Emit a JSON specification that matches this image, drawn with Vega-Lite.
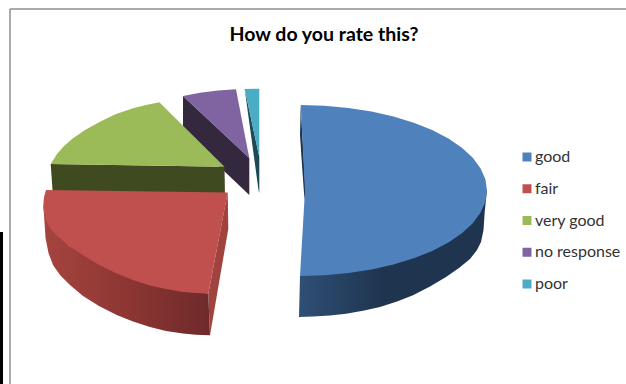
{
  "$schema": "https://vega.github.io/schema/vega-lite/v6.json",
  "width": 626,
  "height": 384,
  "padding": 0,
  "autosize": "none",
  "background": "white",
  "view": {"stroke": null},
  "title": {
    "text": "How do you rate this?",
    "font": "Lato",
    "fontSize": 19.5,
    "fontWeight": "bold",
    "color": "#000000",
    "anchor": "middle",
    "frame": "group",
    "baseline": "alphabetic",
    "offset": -41,
    "dx": 11,
    "dy": 19
  },
  "datasets": {
    "border": [
      {"x": 10, "y": 9, "x2": 10, "y2": 384},
      {"x": 10, "y": 9, "x2": 626, "y2": 9}
    ],
    "edgeBar": [{"x": 0, "x2": 3, "y": 232, "y2": 384}],
    "walls": [
      {"part": "poor", "n": 0, "x": 244.7, "y": 89},
      {"part": "poor", "n": 1, "x": 259.3, "y": 157},
      {"part": "poor", "n": 2, "x": 259.3, "y": 193},
      {"part": "poor", "n": 3, "x": 258.5, "y": 190},
      {"part": "no response", "n": 0, "x": 183, "y": 96},
      {"part": "no response", "n": 1, "x": 249.3, "y": 158},
      {"part": "no response", "n": 2, "x": 249.3, "y": 195},
      {"part": "no response", "n": 3, "x": 183, "y": 132},
      {"part": "very good", "n": 0, "x": 50.7, "y": 164},
      {"part": "very good", "n": 1, "x": 224.5, "y": 166.7},
      {"part": "very good", "n": 2, "x": 225, "y": 197},
      {"part": "very good", "n": 3, "x": 53, "y": 197},
      {"part": "fair side", "n": 0, "x": 227.7, "y": 192},
      {"part": "fair side", "n": 1, "x": 228.3, "y": 228.7},
      {"part": "fair side", "n": 2, "x": 210, "y": 335.3},
      {"part": "fair side", "n": 3, "x": 208.3, "y": 293.7},
      {"part": "fair rim", "n": 0, "x": 43.3, "y": 205},
      {"part": "fair rim", "n": 1, "x": 69, "y": 246},
      {"part": "fair rim", "n": 2, "x": 208.3, "y": 293.7},
      {"part": "fair rim", "n": 3, "x": 210, "y": 335.3},
      {"part": "fair rim", "n": 4, "x": 196, "y": 334.8},
      {"part": "fair rim", "n": 5, "x": 183, "y": 333.5},
      {"part": "fair rim", "n": 6, "x": 166, "y": 331},
      {"part": "fair rim", "n": 7, "x": 150, "y": 327},
      {"part": "fair rim", "n": 8, "x": 133, "y": 321.5},
      {"part": "fair rim", "n": 9, "x": 116.7, "y": 315},
      {"part": "fair rim", "n": 10, "x": 99, "y": 306},
      {"part": "fair rim", "n": 11, "x": 83, "y": 296},
      {"part": "fair rim", "n": 12, "x": 70, "y": 285},
      {"part": "fair rim", "n": 13, "x": 60, "y": 275},
      {"part": "fair rim", "n": 14, "x": 53, "y": 265},
      {"part": "fair rim", "n": 15, "x": 48.5, "y": 253},
      {"part": "fair rim", "n": 16, "x": 45.5, "y": 238},
      {"part": "fair rim", "n": 17, "x": 44.5, "y": 222},
      {"part": "good inner", "n": 0, "x": 300.7, "y": 106},
      {"part": "good inner", "n": 1, "x": 300, "y": 135},
      {"part": "good inner", "n": 2, "x": 302, "y": 165},
      {"part": "good inner", "n": 3, "x": 304.5, "y": 200},
      {"part": "good inner", "n": 4, "x": 305.5, "y": 190},
      {"part": "good rim", "n": 0, "x": 300, "y": 276},
      {"part": "good rim", "n": 1, "x": 487, "y": 190},
      {"part": "good rim", "n": 2, "x": 484.7, "y": 212},
      {"part": "good rim", "n": 3, "x": 483.5, "y": 230},
      {"part": "good rim", "n": 4, "x": 481, "y": 242},
      {"part": "good rim", "n": 5, "x": 477, "y": 250},
      {"part": "good rim", "n": 6, "x": 470, "y": 259},
      {"part": "good rim", "n": 7, "x": 459, "y": 268},
      {"part": "good rim", "n": 8, "x": 446, "y": 277},
      {"part": "good rim", "n": 9, "x": 430, "y": 286.5},
      {"part": "good rim", "n": 10, "x": 413, "y": 295.3},
      {"part": "good rim", "n": 11, "x": 397, "y": 301.5},
      {"part": "good rim", "n": 12, "x": 380, "y": 307},
      {"part": "good rim", "n": 13, "x": 363, "y": 310.8},
      {"part": "good rim", "n": 14, "x": 346, "y": 313.7},
      {"part": "good rim", "n": 15, "x": 330, "y": 315.6},
      {"part": "good rim", "n": 16, "x": 313, "y": 316.6},
      {"part": "good rim", "n": 17, "x": 299, "y": 317}
    ],
    "tops": [
      {"rating": "poor", "n": 0, "x": 244.7, "y": 89},
      {"rating": "poor", "n": 1, "x": 259.3, "y": 88.8},
      {"rating": "poor", "n": 2, "x": 259.3, "y": 157},

      {"rating": "no response", "n": 0, "x": 183, "y": 96},
      {"rating": "no response", "n": 1, "x": 200, "y": 92.8},
      {"rating": "no response", "n": 2, "x": 218, "y": 90.5},
      {"rating": "no response", "n": 3, "x": 236, "y": 89.3},
      {"rating": "no response", "n": 4, "x": 249.3, "y": 158.3},

      {"rating": "very good", "n": 0, "x": 159.3, "y": 102.3},
      {"rating": "very good", "n": 1, "x": 146, "y": 105},
      {"rating": "very good", "n": 2, "x": 133, "y": 108.3},
      {"rating": "very good", "n": 3, "x": 116, "y": 114},
      {"rating": "very good", "n": 4, "x": 100, "y": 121.7},
      {"rating": "very good", "n": 5, "x": 85, "y": 130},
      {"rating": "very good", "n": 6, "x": 73, "y": 138.3},
      {"rating": "very good", "n": 7, "x": 64, "y": 146},
      {"rating": "very good", "n": 8, "x": 57, "y": 154},
      {"rating": "very good", "n": 9, "x": 50.7, "y": 164},
      {"rating": "very good", "n": 10, "x": 224.5, "y": 166.7},

      {"rating": "fair", "n": 0, "x": 46, "y": 190},
      {"rating": "fair", "n": 1, "x": 44, "y": 197},
      {"rating": "fair", "n": 2, "x": 43.3, "y": 205},
      {"rating": "fair", "n": 3, "x": 44, "y": 213},
      {"rating": "fair", "n": 4, "x": 46, "y": 220},
      {"rating": "fair", "n": 5, "x": 50, "y": 228},
      {"rating": "fair", "n": 6, "x": 56.7, "y": 235.5},
      {"rating": "fair", "n": 7, "x": 69, "y": 246},
      {"rating": "fair", "n": 8, "x": 83, "y": 255},
      {"rating": "fair", "n": 9, "x": 99, "y": 265},
      {"rating": "fair", "n": 10, "x": 116.7, "y": 273.5},
      {"rating": "fair", "n": 11, "x": 133, "y": 280},
      {"rating": "fair", "n": 12, "x": 150, "y": 285.5},
      {"rating": "fair", "n": 13, "x": 166, "y": 289},
      {"rating": "fair", "n": 14, "x": 183, "y": 292},
      {"rating": "fair", "n": 15, "x": 196, "y": 293},
      {"rating": "fair", "n": 16, "x": 208.3, "y": 293.7},
      {"rating": "fair", "n": 17, "x": 227.7, "y": 192.5},

      {"rating": "good", "n": 0, "x": 300.7, "y": 105},
      {"rating": "good", "n": 1, "x": 324.4, "y": 105.7},
      {"rating": "good", "n": 2, "x": 348.4, "y": 107.9},
      {"rating": "good", "n": 3, "x": 371.6, "y": 111.5},
      {"rating": "good", "n": 4, "x": 393.5, "y": 116.5},
      {"rating": "good", "n": 5, "x": 413.8, "y": 122.7},
      {"rating": "good", "n": 6, "x": 432.2, "y": 130},
      {"rating": "good", "n": 7, "x": 448.4, "y": 138.5},
      {"rating": "good", "n": 8, "x": 461.9, "y": 147.8},
      {"rating": "good", "n": 9, "x": 472.8, "y": 157.8},
      {"rating": "good", "n": 10, "x": 480.6, "y": 168.4},
      {"rating": "good", "n": 11, "x": 485.4, "y": 179.3},
      {"rating": "good", "n": 12, "x": 487, "y": 190.5},
      {"rating": "good", "n": 13, "x": 485.4, "y": 201.7},
      {"rating": "good", "n": 14, "x": 480.6, "y": 212.6},
      {"rating": "good", "n": 15, "x": 472.8, "y": 223.2},
      {"rating": "good", "n": 16, "x": 461.9, "y": 233.3},
      {"rating": "good", "n": 17, "x": 448.4, "y": 242.5},
      {"rating": "good", "n": 18, "x": 432.2, "y": 251},
      {"rating": "good", "n": 19, "x": 413.8, "y": 258.3},
      {"rating": "good", "n": 20, "x": 393.5, "y": 264.5},
      {"rating": "good", "n": 21, "x": 371.6, "y": 269.5},
      {"rating": "good", "n": 22, "x": 348.4, "y": 273.1},
      {"rating": "good", "n": 23, "x": 324.4, "y": 275.3},
      {"rating": "good", "n": 24, "x": 300, "y": 276},
      {"rating": "good", "n": 25, "x": 305, "y": 190.5}
    ]
  },
  "encoding": {
    "x": {"field": "x", "type": "quantitative", "axis": null, "scale": {"domain": [0, 626], "nice": false, "zero": false}},
    "y": {"field": "y", "type": "quantitative", "axis": null, "scale": {"domain": [384, 0], "nice": false, "zero": false}}
  },
  "layer": [
    {
      "data": {"name": "border"},
      "mark": {"type": "rule", "stroke": "#8f8f8f", "strokeWidth": 1.5},
      "encoding": {"x2": {"field": "x2"}, "y2": {"field": "y2"}}
    },
    {
      "data": {"name": "edgeBar"},
      "mark": {"type": "rect", "fill": "#000000"},
      "encoding": {"x2": {"field": "x2"}, "y2": {"field": "y2"}}
    },
    {
      "data": {"name": "walls"},
      "transform": [{"filter": "datum.part === 'poor'"}],
      "mark": {"type": "line", "fill": "#1f4a55", "strokeOpacity": 0},
      "encoding": {"order": {"field": "n"}}
    },
    {
      "data": {"name": "walls"},
      "transform": [{"filter": "datum.part === 'no response'"}],
      "mark": {"type": "line", "fill": "#34283f", "strokeOpacity": 0},
      "encoding": {"order": {"field": "n"}}
    },
    {
      "data": {"name": "walls"},
      "transform": [{"filter": "datum.part === 'very good'"}],
      "mark": {"type": "line", "fill": "#404a20", "strokeOpacity": 0},
      "encoding": {"order": {"field": "n"}}
    },
    {
      "data": {"name": "walls"},
      "transform": [{"filter": "datum.part === 'fair side'"}],
      "mark": {"type": "line", "fill": "#a0433f", "strokeOpacity": 0},
      "encoding": {"order": {"field": "n"}}
    },
    {
      "data": {"name": "walls"},
      "transform": [{"filter": "datum.part === 'fair rim'"}],
      "mark": {
        "type": "line",
        "strokeOpacity": 0,
        "fill": {
          "gradient": "linear", "x1": 0, "x2": 1, "y1": 0, "y2": 0,
          "stops": [
            {"offset": 0, "color": "#a6443f"},
            {"offset": 0.5, "color": "#8d3633"},
            {"offset": 1, "color": "#6e2a2a"}
          ]
        }
      },
      "encoding": {"order": {"field": "n"}}
    },
    {
      "data": {"name": "walls"},
      "transform": [{"filter": "datum.part === 'good inner'"}],
      "mark": {"type": "line", "fill": "#1f344f", "strokeOpacity": 0},
      "encoding": {"order": {"field": "n"}}
    },
    {
      "data": {"name": "walls"},
      "transform": [{"filter": "datum.part === 'good rim'"}],
      "mark": {
        "type": "line",
        "strokeOpacity": 0,
        "fill": {
          "gradient": "linear", "x1": 0, "x2": 1, "y1": 0, "y2": 0,
          "stops": [
            {"offset": 0, "color": "#2f4f75"},
            {"offset": 0.45, "color": "#1f344f"},
            {"offset": 1, "color": "#1f344f"}
          ]
        }
      },
      "encoding": {"order": {"field": "n"}}
    },
    {
      "data": {"name": "tops"},
      "mark": {"type": "line", "strokeOpacity": 0},
      "encoding": {
        "order": {"field": "n"},
        "fill": {
          "field": "rating",
          "type": "nominal",
          "scale": {
            "domain": ["good", "fair", "very good", "no response", "poor"],
            "range": ["#4f81bd", "#c0504d", "#9bbb59", "#8064a2", "#4bacc6"]
          },
          "legend": {
            "title": null,
            "orient": "none",
            "legendX": 519,
            "legendY": 149,
            "symbolType": "square",
            "symbolSize": 81,
            "symbolStrokeWidth": 0,
            "labelFont": "Lato",
            "labelFontSize": 16,
            "labelColor": "#333333",
            "labelOffset": 0,
            "rowPadding": 15.75,
            "labelLimit": 120
          }
        }
      }
    }
  ]
}
